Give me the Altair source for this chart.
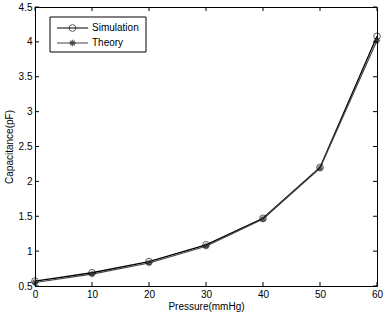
import altair as alt
import pandas as pd

pressure = [0, 10, 20, 30, 40, 50, 60]
simulation = [0.57, 0.69, 0.85, 1.09, 1.47, 2.20, 4.08]
theory = [0.55, 0.67, 0.83, 1.07, 1.46, 2.19, 4.02]
x_ticks = [0, 10, 20, 30, 40, 50, 60]
y_ticks = [0.5, 1, 1.5, 2, 2.5, 3, 3.5, 4, 4.5]

W, H = 342, 279
FONT = "Liberation Sans"

df = pd.DataFrame({"p": pressure, "sim": simulation, "th": theory})
xs = alt.Scale(domain=[0, 60], nice=False)
ys = alt.Scale(domain=[0.5, 4.5], nice=False)

xax = alt.Axis(values=x_ticks, title="Pressure(mmHg)", titlePadding=2, labelOverlap=False)
yax = alt.Axis(values=y_ticks, title="Capacitance(pF)", titlePadding=4,
               labelOverlap=False, tickCount=9, format="~g")

base = alt.Chart(df)
star = "M-1,0L1,0M0,-1L0,1M-0.7,-0.7L0.7,0.7M-0.7,0.7L0.7,-0.7"

sim_line = base.mark_line(color="black", strokeWidth=1.3).encode(
    x=alt.X("p:Q", scale=xs, axis=xax), y=alt.Y("sim:Q", scale=ys, axis=yax))
th_line = base.mark_line(color="#444", strokeWidth=1.2).encode(
    x=alt.X("p:Q", scale=xs, axis=xax), y=alt.Y("th:Q", scale=ys, axis=yax))
sim_pts = base.mark_point(shape="circle", filled=False, color="black", size=45, strokeWidth=0.9).encode(
    x=alt.X("p:Q", scale=xs, axis=xax), y=alt.Y("sim:Q", scale=ys, axis=yax))
th_pts = base.mark_point(shape=star, filled=False, color="#222", size=40, strokeWidth=1.3).encode(
    x=alt.X("p:Q", scale=xs, axis=xax), y=alt.Y("th:Q", scale=ys, axis=yax))

xt = pd.DataFrame({"t": x_ticks})
yt = pd.DataFrame({"t": y_ticks})
tl = 4
xt_bot = alt.Chart(xt).mark_rule(color="black").encode(
    x=alt.X("t:Q", scale=xs, axis=xax), y=alt.value(H), y2=alt.value(H - tl))
xt_top = alt.Chart(xt).mark_rule(color="black").encode(
    x=alt.X("t:Q", scale=xs, axis=xax), y=alt.value(0), y2=alt.value(tl))
yt_l = alt.Chart(yt).mark_rule(color="black").encode(
    y=alt.Y("t:Q", scale=ys, axis=yax), x=alt.value(0), x2=alt.value(tl))
yt_r = alt.Chart(yt).mark_rule(color="black").encode(
    y=alt.Y("t:Q", scale=ys, axis=yax), x=alt.value(W), x2=alt.value(W - tl))

# legend
lx0, ly0, lx1, ly1 = 15, 10, 111, 45
one = pd.DataFrame({"a": [0]})
leg_box = alt.Chart(one).mark_rect(
    fill="white", stroke="black", strokeWidth=1).encode(
    x=alt.value(lx0), x2=alt.value(lx1), y=alt.value(ly0), y2=alt.value(ly1))
leg_l1 = alt.Chart(one).mark_rule(color="black").encode(
    x=alt.value(22), x2=alt.value(53), y=alt.value(21))
leg_l2 = alt.Chart(one).mark_rule(color="#444").encode(
    x=alt.value(22), x2=alt.value(53), y=alt.value(36))
leg_m1 = alt.Chart(one).mark_point(
    shape="circle", filled=False, color="black", size=45, strokeWidth=0.9).encode(
    x=alt.value(37.5), y=alt.value(21))
leg_m2 = alt.Chart(one).mark_point(
    shape=star, filled=False, color="#222", size=40, strokeWidth=1.3).encode(
    x=alt.value(37.5), y=alt.value(36))
leg_t = alt.Chart(pd.DataFrame({"label": ["Simulation", "Theory"], "yy": [21, 36]})).mark_text(
    align="left", baseline="middle", font=FONT, fontSize=10, color="black").encode(
    x=alt.value(57), y=alt.Y("yy:Q", scale=None), text="label:N")

chart = alt.layer(
    sim_line, th_line, sim_pts, th_pts, xt_bot, xt_top, yt_l, yt_r,
    leg_box, leg_l1, leg_l2, leg_m1, leg_m2, leg_t
).properties(
    width=W, height=H,
    autosize=alt.AutoSizeParams(type="none"),
    padding={"left": 35, "top": 7, "right": 12, "bottom": 32},
    background="white",
).configure_view(stroke="black", strokeWidth=1).configure_axis(
    labelOverlap=False, labelFlush=False, ticks=False, grid=False,
    domainColor="black", labelColor="black", labelFont=FONT, labelFontSize=10,
    labelPadding=3, titleFont=FONT, titleFontSize=10, titleFontWeight="normal",
    titleColor="black",
)

chart.save("out.html", embed_options={"renderer": "svg", "actions": False})
